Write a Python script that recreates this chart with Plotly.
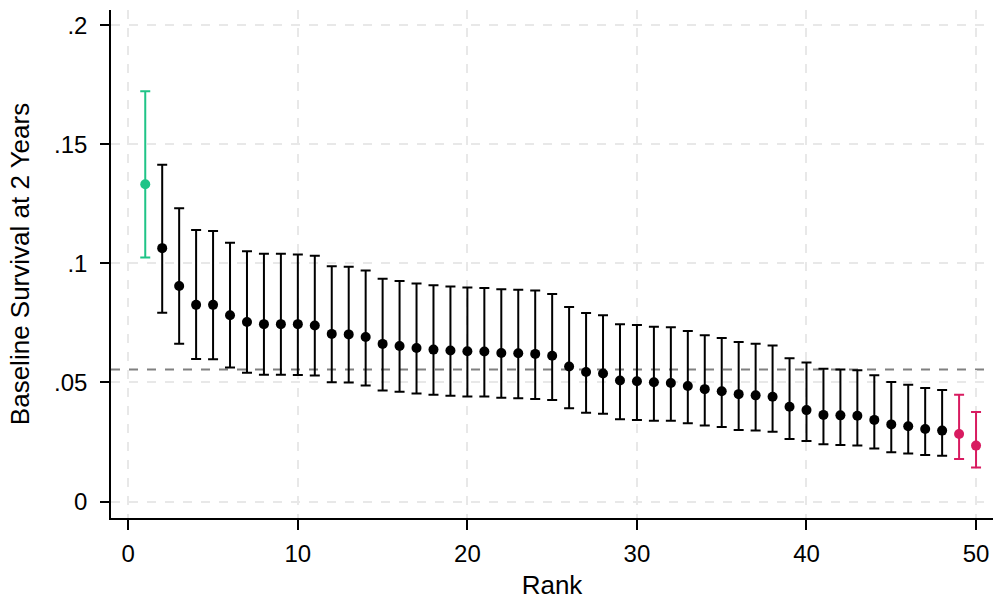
import plotly.graph_objects as go

rank = list(range(1, 51))
estimate = [0.1332, 0.1064, 0.0905, 0.0826, 0.0826, 0.0782, 0.0754, 0.0745, 0.0745, 0.0745,
            0.0739, 0.0704, 0.0702, 0.0691, 0.0662, 0.0653, 0.0645, 0.0638, 0.0634, 0.0631,
            0.0630, 0.0624, 0.0623, 0.0620, 0.0612, 0.0567, 0.0544, 0.0538, 0.0508, 0.0505,
            0.0501, 0.0498, 0.0485, 0.0472, 0.0463, 0.0451, 0.0446, 0.0440, 0.0398, 0.0384,
            0.0364, 0.0362, 0.0360, 0.0343, 0.0324, 0.0316, 0.0305, 0.0298, 0.0284, 0.0235]
upper = [0.1723, 0.1414, 0.1232, 0.1140, 0.1136, 0.1087, 0.1051, 0.1041, 0.1041, 0.1037,
         0.1032, 0.0988, 0.0986, 0.0970, 0.0936, 0.0926, 0.0916, 0.0908, 0.0903, 0.0899,
         0.0897, 0.0892, 0.0889, 0.0886, 0.0872, 0.0817, 0.0792, 0.0782, 0.0745, 0.0741,
         0.0734, 0.0732, 0.0716, 0.0698, 0.0687, 0.0670, 0.0663, 0.0655, 0.0602, 0.0584,
         0.0558, 0.0555, 0.0551, 0.0530, 0.0502, 0.0491, 0.0477, 0.0468, 0.0448, 0.0376]
lower = [0.1025, 0.0793, 0.0663, 0.0599, 0.0598, 0.0563, 0.0541, 0.0533, 0.0533, 0.0531,
         0.0529, 0.0501, 0.0500, 0.0487, 0.0466, 0.0461, 0.0454, 0.0448, 0.0444, 0.0441,
         0.0441, 0.0436, 0.0434, 0.0431, 0.0426, 0.0392, 0.0373, 0.0369, 0.0346, 0.0343,
         0.0339, 0.0339, 0.0329, 0.0319, 0.0313, 0.0301, 0.0298, 0.0293, 0.0263, 0.0254,
         0.0241, 0.0238, 0.0235, 0.0223, 0.0207, 0.0202, 0.0196, 0.0192, 0.0179, 0.0143]
reference_line = 0.0554

x_ticks = [0, 10, 20, 30, 40, 50]
y_ticks = [0, 0.05, 0.1, 0.15, 0.2]
y_tick_labels = ["0", ".05", ".1", ".15", ".2"]

GREEN = "#1fc487"
PINK = "#d81b60"
BLACK = "#000000"

def color_for(r):
    if r == 1:
        return GREEN
    if r >= 49:
        return PINK
    return BLACK

groups = {}
for i, r in enumerate(rank):
    c = color_for(r)
    groups.setdefault(c, []).append(i)

fig = go.Figure()

fig.add_hline(y=reference_line, line=dict(color="#808080", width=2, dash="dash"), layer="below")

for c, idx in groups.items():
    xs = [rank[i] for i in idx]
    ys = [estimate[i] for i in idx]
    ep = [upper[i] - estimate[i] for i in idx]
    em = [estimate[i] - lower[i] for i in idx]
    fig.add_trace(go.Scatter(
        x=xs, y=ys, mode="markers",
        marker=dict(color=c, size=10),
        error_y=dict(type="data", symmetric=False, array=ep, arrayminus=em,
                     color=c, thickness=2, width=5),
        showlegend=False,
        cliponaxis=False,
    ))

font = "Liberation Sans, Arial, Helvetica, sans-serif"
fig.update_layout(
    width=993, height=600,
    margin=dict(l=111, r=0, t=10, b=77),
    plot_bgcolor="white", paper_bgcolor="white",
    font=dict(family=font, size=24, color="black"),
)
fig.update_xaxes(
    range=[-1.02, 51.0], tickvals=x_ticks, ticktext=[str(t) for t in x_ticks],
    showline=True, linecolor="black", linewidth=1.5,
    ticks="outside", ticklen=10, tickwidth=1.5, tickcolor="black",
    showgrid=True, gridcolor="#e8e8e8", gridwidth=1.5, griddash="dash",
    zeroline=False, title=dict(text="Rank", font=dict(size=26), standoff=15),
    tickfont=dict(size=24), ticklabelstandoff=3,
)
fig.update_yaxes(
    range=[-0.0069, 0.2064], tickvals=y_ticks, ticktext=y_tick_labels,
    showline=True, linecolor="black", linewidth=1.5,
    ticks="outside", ticklen=9, tickwidth=1.5, tickcolor="black",
    showgrid=True, gridcolor="#e8e8e8", gridwidth=1.5, griddash="dash",
    zeroline=False, title=dict(text="Baseline Survival at 2 Years", font=dict(size=26), standoff=17),
    tickfont=dict(size=24), ticklabelstandoff=8,
)

fig.write_html(
    "out.html",
    config={"displayModeBar": False},
    post_script="document.body.style.margin='0';document.body.style.overflow='hidden';",
)
